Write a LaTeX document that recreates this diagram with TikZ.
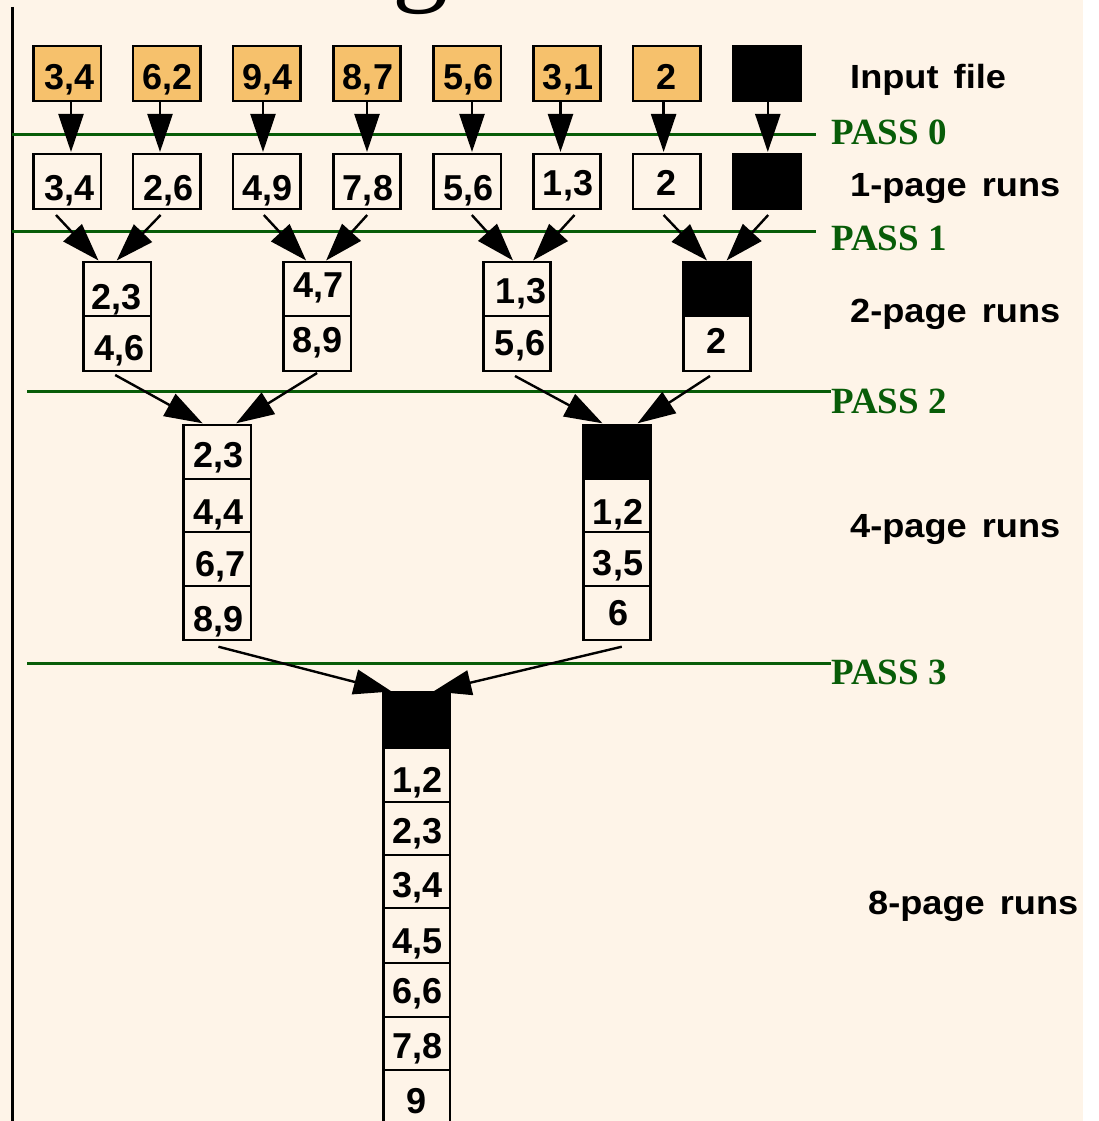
\documentclass[tikz,border=0pt]{standalone}
\usepackage{fontspec}
\usepackage{graphicx}
\setmainfont{Liberation Sans}
\newfontfamily\passfont{Liberation Serif}
\usetikzlibrary{arrows.meta,calc}
\definecolor{cream}{RGB}{254,244,232}
\definecolor{inorange}{RGB}{246,193,108}
\definecolor{passgreen}{RGB}{8,92,8}
\tikzset{
  cellbox/.style={draw=black, line width=2.6pt, rectangle, minimum width=67.5pt, inner sep=0pt, outer sep=0pt, anchor=north},
  inbox/.style={fill=inorange},
  plainbox/.style={},
  blackbox/.style={fill=black},
  num/.style={font=\fontsize{36}{40}\selectfont\bfseries, inner sep=0pt, anchor=base},
  lbl/.style={font=\fontsize{33.5}{40}\selectfont\bfseries, inner sep=0pt, anchor=base west},
  passlbl/.style={font=\passfont\fontsize{37}{40}\selectfont\bfseries, text=passgreen, inner sep=0pt, anchor=base west},
  passline/.style={draw=passgreen, line width=3pt},
  arr/.style={draw=black, line width=2.4pt, -{Triangle[length=38pt,width=25pt]}},
}
\newcommand\mkcell[8]{%
  \node[cellbox,#1,minimum height=#5pt] (#2) at (#3,#4) {};
  \node[num] (#2t) at ($(#2.south)+(#7,-#8)$) {#6};}
\newcommand\mkblack[4]{%
  \node[cellbox,blackbox,minimum height=#4pt] (#1) at (#2,#3) {};}
\newcommand\lbltext[1]{\scalebox{1.08}[1]{\spaceskip=14pt #1}}
\begin{document}
\begin{tikzpicture}[x=1pt,y=-1pt]
\useasboundingbox (0,0) rectangle (1099,1121);
\begin{scope}
\clip (0,0) rectangle (1099,1121);
\fill[cream] (0,0) rectangle (1083,1121);
\fill[white] (1083,0) rectangle (1099,1121);
% partial title letter
\node[font=\passfont\fontsize{112}{112}\selectfont, inner sep=0pt, anchor=base] (titleg) at (420,-9.5) {g};
% left rule
\coordinate (vtop) at (12,7);
\coordinate (vbot) at (12,1121);
\draw[line width=3pt] (vtop) -- (vbot);

% pass labels and lines
\node[passlbl] (p0) at (831,144) {PASS 0};
\node[passlbl] (p1) at (831,250) {PASS 1};
\node[passlbl] (p2) at (831,413) {PASS 2};
\node[passlbl] (p3) at (831,684) {PASS 3};
\coordinate (g0) at (12,135);
\coordinate (g1) at (12,231);
\coordinate (g2) at (27,391);
\coordinate (g3) at (27,663);
\draw[passline, shorten >=15pt] (g0) -- (g0 -| p0.west);
\draw[passline, shorten >=15pt] (g1) -- (g1 -| p1.west);
\draw[passline] (g2) -- (g2 -| p2.west);
\draw[passline] (g3) -- (g3 -| p3.west);

% row labels
\node[lbl] (linput) at (850,89) {\lbltext{Input file}};
\node[lbl] (lone) at (850,196) {\lbltext{1-page runs}};
\node[lbl] (ltwo) at (850,322) {\lbltext{2-page runs}};
\node[lbl] (lfour) at (850,537) {\lbltext{4-page runs}};
\node[lbl] (leight) at (868,914) {\lbltext{8-page runs}};

% input file
\mkcell{inbox}{in1}{67.4}{46}{55}{3,4}{2}{11}
\mkcell{inbox}{in2}{166.6}{46}{55}{6,2}{1}{11}
\mkcell{inbox}{in3}{266.8}{46}{55}{9,4}{1}{11}
\mkcell{inbox}{in4}{367}{46}{55}{8,7}{1}{11}
\mkcell{inbox}{in5}{467.2}{46}{55}{5,6}{1}{11}
\mkcell{inbox}{in6}{567}{46}{55}{3,1}{1}{11}
\mkcell{inbox}{in7}{666.6}{46}{55}{2}{0}{11}
\mkblack{in8}{766.7}{46}{55}

% 1-page runs
\mkcell{plainbox}{r1}{67.4}{154}{55}{3,4}{2}{9}
\mkcell{plainbox}{r2}{166.6}{154}{55}{2,6}{2}{9}
\mkcell{plainbox}{r3}{266.8}{154}{55}{4,9}{1}{9}
\mkcell{plainbox}{r4}{367}{154}{55}{7,8}{1}{9}
\mkcell{plainbox}{r5}{467.2}{154}{55}{5,6}{1}{9}
\mkcell{plainbox}{r6}{567}{154}{55}{1,3}{1}{14}
\mkcell{plainbox}{r7}{666.6}{154}{55}{2}{0}{14}
\mkblack{r8}{766.7}{154}{55}

% 2-page runs
\mkcell{plainbox}{a1}{117.2}{262}{54}{2,3}{-1}{7}
\mkcell{plainbox}{a2}{117.2}{316}{55}{4,6}{2}{11}
\mkcell{plainbox}{b1}{317.1}{262}{54}{4,7}{1}{19}
\mkcell{plainbox}{b2}{317.1}{316}{55}{8,9}{0}{19}
\mkcell{plainbox}{c1}{517}{262}{54}{1,3}{4}{13}
\mkcell{plainbox}{c2}{517}{316}{55}{5,6}{3}{16}
\mkblack{d1}{717}{262}{54}
\mkcell{plainbox}{d2}{717}{316}{55}{2}{0}{18}

% 4-page runs
\mkcell{plainbox}{l1}{217.1}{425}{54}{2,3}{1}{12}
\mkcell{plainbox}{l2}{217.1}{479}{53}{4,4}{1}{8}
\mkcell{plainbox}{l3}{217.1}{532}{54}{6,7}{3}{10}
\mkcell{plainbox}{l4}{217.1}{586}{54}{8,9}{1}{9}
\mkblack{rb}{617}{425}{54}
\mkcell{plainbox}{rc1}{617}{479}{53}{1,2}{1}{8}
\mkcell{plainbox}{rc2}{617}{532}{54}{3,5}{1}{11}
\mkcell{plainbox}{rc3}{617}{586}{54}{6}{2}{15}

% 8-page runs
\begin{scope}[cellbox/.append style={minimum width=66.7pt}]
\mkblack{mb}{416.7}{692}{56}
\mkcell{plainbox}{m1}{416.7}{748}{54}{1,2}{1}{10}
\mkcell{plainbox}{m2}{416.7}{802}{53}{2,3}{1}{12}
\mkcell{plainbox}{m3}{416.7}{855}{53}{3,4}{1}{11}
\mkcell{plainbox}{m4}{416.7}{908}{55}{4,5}{1}{10}
\mkcell{plainbox}{m5}{416.7}{963}{54}{6,6}{1}{14}
\mkcell{plainbox}{m6}{416.7}{1017}{53}{7,8}{1}{12}
\mkcell{plainbox}{m7}{416.7}{1070}{54}{9}{0}{11}
\end{scope}

% PASS 0 arrows
\draw[arr] ($(in1.south)+(3.6,0)$) -- ($(r1.north)+(3.6,-2)$);
\draw[arr] ($(in2.south)+(-6.6,0)$) -- ($(r2.north)+(-6.6,-2)$);
\draw[arr] ($(in3.south)+(-3.8,0)$) -- ($(r3.north)+(-3.8,-2)$);
\draw[arr] ($(in4.south)+(0,0)$) -- ($(r4.north)+(0,-2)$);
\draw[arr] ($(in5.south)+(4.8,0)$) -- ($(r5.north)+(4.8,-2)$);
\draw[arr] ($(in6.south)+(-6.5,0)$) -- ($(r6.north)+(-6.5,-2)$);
\draw[arr] ($(in7.south)+(-3,0)$) -- ($(r7.north)+(-3,-2)$);
\draw[arr] ($(in8.south)+(1.1,0)$) -- ($(r8.north)+(1.1,-2)$);

% PASS 1 arrows
\draw[arr] ($(r1.south)+(-11.4,6)$) -- ($(a1.north)+(-18.7,-1.5)$);
\draw[arr] ($(r2.south)+(-6,6)$) -- ($(a1.north)+(-0.5,-1.5)$);
\draw[arr] ($(r3.south)+(-3,6)$) -- ($(b1.north)+(-11,-1.5)$);
\draw[arr] ($(r4.south)+(0.2,6)$) -- ($(b1.north)+(9,-1.5)$);
\draw[arr] ($(r5.south)+(4.6,6)$) -- ($(c1.north)+(-4,-1.5)$);
\draw[arr] ($(r6.south)+(7.5,6)$) -- ($(c1.north)+(16,-1.5)$);
\draw[arr] ($(r7.south)+(-3,6)$) -- ($(d1.north)+(-10,-1.5)$);
\draw[arr] ($(r8.south)+(1.5,6)$) -- ($(d1.north)+(9.6,-1.5)$);

% PASS 2 arrows
\draw[arr] ($(a2.south)+(-2,4)$) -- ($(l1.north)+(-14.5,-1.7)$);
\draw[arr] ($(b2.south)+(0,2)$) -- ($(l1.north)+(19,-1.7)$);
\draw[arr] ($(c2.south)+(-2,5)$) -- ($(rb.north)+(-14.5,-1.7)$);
\draw[arr] ($(d2.south)+(-7,5)$) -- ($(rb.north)+(20.5,-1.7)$);

% PASS 3 arrows
\draw[arr] ($(l4.south)+(1.3,6.7)$) -- ($(mb.north)+(-25,-0.5)$);
\draw[arr] ($(rc3.south)+(4.8,6.7)$) -- ($(mb.north)+(16.6,-0.5)$);
\end{scope}
\end{tikzpicture}
\end{document}
